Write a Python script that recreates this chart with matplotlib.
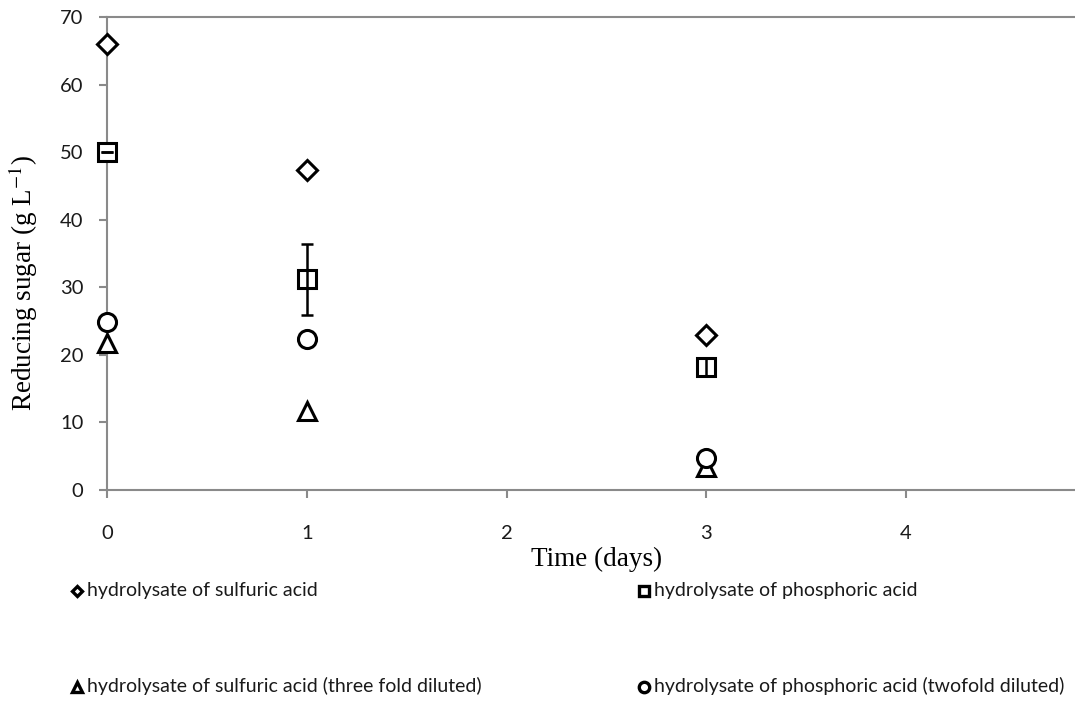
import matplotlib
matplotlib.use("Agg")
import matplotlib.pyplot as plt
from matplotlib.lines import Line2D

plt.rcParams["mathtext.fontset"] = "stix"

# Sampling times (days)
days = [0, 1, 3]

# Reducing sugar concentrations (g/L)
sulfuric = [66.0, 47.4, 22.9]
phosphoric = [50.0, 31.2, 18.2]
phosphoric_err = [0.0, 5.25, 1.3]
sulfuric_3x = [21.8, 11.7, 3.4]
phosphoric_2x = [24.9, 22.3, 4.7]

labels = [
    "hydrolysate of sulfuric acid",
    "hydrolysate of phosphoric acid",
    "hydrolysate of sulfuric acid (three fold diluted)",
    "hydrolysate of phosphoric acid (twofold diluted)",
]

x_ticks = [0, 1, 2, 3, 4]
y_ticks = [0, 10, 20, 30, 40, 50, 60, 70]

tick_font = "Lato"
label_font = "Liberation Serif"
axis_grey = "#8a8a8a"

W, H = 1075, 706
fig = plt.figure(figsize=(W / 100, H / 100), dpi=100)
ax = fig.add_axes([107 / W, 1 - 490 / H, 1 - 107 / W, (490 - 17) / H])

mk = dict(linestyle="none", markerfacecolor="white", markeredgecolor="black",
          markeredgewidth=2.2, zorder=4, clip_on=False)

ax.plot(days, sulfuric, marker="D", markersize=10, **mk)
ax.plot(days, phosphoric, marker="s", markersize=13, **mk)
ax.errorbar(days, phosphoric, yerr=phosphoric_err, fmt="none", ecolor="black",
            elinewidth=1.8, capsize=4.5, capthick=1.8, zorder=5, clip_on=False)
ax.plot(days, sulfuric_3x, marker="^", markersize=13, **mk)
ax.plot(days, phosphoric_2x, marker="o", markersize=13, **mk)

ax.set_xlim(0, (W - 107) / 199.75)
ax.set_ylim(0, 70)
ax.set_xticks(x_ticks)
ax.set_yticks(y_ticks)

ax.spines["right"].set_visible(False)
for side in ("left", "bottom", "top"):
    ax.spines[side].set_color(axis_grey)
    ax.spines[side].set_linewidth(1.5)

ax.tick_params(axis="both", direction="out", length=6, width=1.5, color=axis_grey,
               labelsize=14.5)
ax.tick_params(axis="x", pad=19)
ax.tick_params(axis="y", pad=11)
for lab in ax.get_xticklabels() + ax.get_yticklabels():
    lab.set_fontfamily(tick_font)
    lab.set_color("#1a1a1a")

ax.set_xlabel("Time (days)", fontfamily=label_font, fontsize=19.5, labelpad=3.5)
ax.xaxis.label.set_x(0.506)
ax.set_ylabel("Reducing sugar (g L$^{-1}$)", fontfamily=label_font, fontsize=19.5)
ax.yaxis.set_label_coords(-0.069, 0.438)

# Legend entries laid out in a 2 x 2 block beneath the axes
entries = [
    ("D", 5.5, 77, 596, labels[0]),
    ("s", 7.0, 644, 596, labels[1]),
    ("^", 7.5, 77, 692, labels[2]),
    ("o", 7.5, 644, 692, labels[3]),
]
for marker, size, px, py, text in entries:
    fig.add_artist(Line2D([px / W], [1 - (py - 5) / H], transform=fig.transFigure,
                          marker=marker, markersize=size, markerfacecolor="white",
                          markeredgecolor="black", markeredgewidth=2.4,
                          linestyle="none"))
    fig.text((px + 10) / W, 1 - py / H, text, fontfamily=tick_font,
             fontsize=14, va="baseline", ha="left", color="#1a1a1a")

fig.savefig("out.png", dpi=100)
